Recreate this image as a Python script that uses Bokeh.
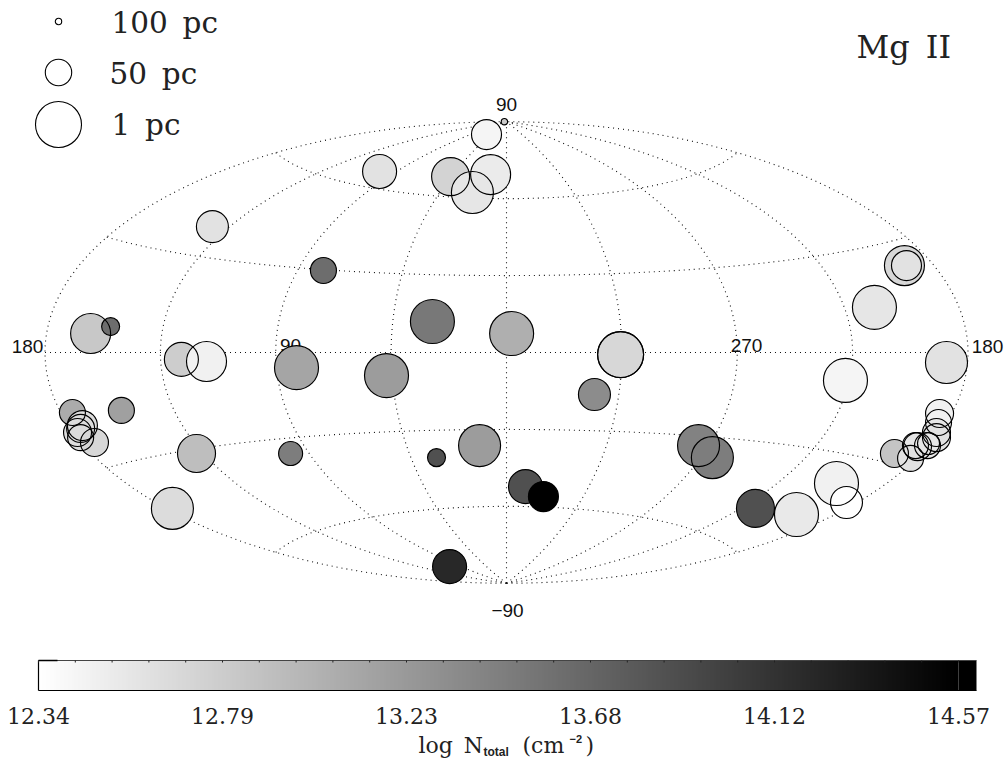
import numpy as np
from bokeh.embed import file_html
from bokeh.resources import INLINE
from bokeh.plotting import figure
from bokeh.models import ColumnDataSource, LinearColorMapper, Range1d
from bokeh.palettes import gray
from bokeh.core.properties import value

# Positions on the Aitoff map plane, in map degrees (x: -180..180, y: -90..90)
map_x = [-7.8,-0.8,-49.5,-21.8,-6.2,-13.3,-114.7,-71.4,-28.9,2.0,-162.2,-154.4,-126.8,-117.0,-81.9,-46.8,
         44.5,44.5,34.3,-169.3,-150.2,-165.4,-166.1,-167.3,-166.1,-160.7,-120.9,-84.2,-130.3,-27.3,-10.5,
         7.4,14.4,-22.2,74.9,80.3,97.1,113.1,128.7,132.6,132.2,143.5,155.2,156.0,171.6,
         168.9,168.5,167.7,167.7,164.6,164.2,160.3,159.5,151.3,157.6]
map_y = [85.0,90.0,70.6,68.6,69.4,62.4,49.1,32.0,12.1,7.4,7.4,10.1,-2.7,-3.5,-5.9,-9.0,
         -0.8,-0.8,-16.4,-23.4,-22.6,-28.5,-29.6,-31.2,-33.2,-35.1,-39.4,-39.4,-60.8,-41.0,-36.3,
         -52.3,-56.2,-83.5,-36.3,-41.0,-60.8,-63.2,-51.1,-58.5,-10.9,17.6,33.9,33.9,-3.9,
         -23.8,-27.3,-31.2,-33.2,-35.5,-36.3,-36.7,-36.3,-39.4,-41.3]
# log column density of each sight line
log_n = [12.43,12.82,12.60,12.73,12.515,12.56,12.60,13.62,13.52,13.04,12.82,13.62,12.78,12.47,13.13,13.21,
         12.69,12.69,13.35,13.08,13.17,12.65,12.65,12.65,12.65,12.69,12.91,13.48,12.65,13.87,13.21,
         13.87,14.57,14.22,13.43,13.48,13.87,12.54,12.47,12.34,12.43,12.56,12.69,12.60,12.60,
         12.47,12.47,12.56,12.60,12.60,12.56,12.60,12.56,12.86,12.60]
# distance of each sight line, pc
distance_pc = [41,100,31,21,16,11,36,51,6,6,16,71,31,16,6,6,
               1,1,36,51,51,41,46,46,51,46,21,56,11,71,11,
               31,41,31,11,11,21,6,6,36,6,6,16,41,11,
               46,51,46,46,61,51,46,51,46,51]

legend_pc = [100, 50, 1]
legend_labels = ["100\u2002pc", "50\u2002pc", "1\u2002pc"]
cb_labels = ["12.34", "12.79", "13.23", "13.68", "14.12", "14.57"]
cb_values = [12.34, 12.786, 13.232, 13.678, 14.124, 14.57]
grid_lon = [-180, -135, -90, -45, 0, 45, 90, 135, 180]
grid_lat = [-60, -30, 0, 30, 60]
lon_labels = ["180", "90", "270", "180"]

# layout helpers: page pixels <-> map plane
def hx(px): return (px - 506) / 2.564
def hy(py): return (352 - py) / 2.564
def nx(px): return 12.34 + (np.asarray(px, float) - 38) * 2.23 / 920

def aitoff(lon, lat):
    lam = np.radians(np.asarray(lon, float)); phi = np.radians(np.asarray(lat, float))
    a = np.arccos(np.cos(phi) * np.cos(lam / 2))
    s = np.where(a < 1e-9, 1.0, np.sin(a) / np.where(a < 1e-9, 1.0, a))
    return np.degrees(2 * np.cos(phi) * np.sin(lam / 2) / s), np.degrees(np.sin(phi) / s)

def radius(d): return 23.2 - 0.2 * np.asarray(d, float)

p = figure(width=1006, height=761, output_backend="svg", toolbar_location=None,
           x_range=Range1d(hx(0), hx(1006)), y_range=Range1d(hy(761), hy(0)),
           min_border=0, outline_line_color=None, background_fill_color="white")
p.xaxis.visible = False
p.yaxis.visible = False
p.grid.visible = False
p.extra_x_ranges["logn"] = Range1d(float(nx(0)), float(nx(1006)))

mapper = LinearColorMapper(palette=list(gray(256))[::-1], low=12.34, high=14.57)

# graticule
for lat in grid_lat:
    lons = np.linspace(-180, 180, 181)
    x, y = aitoff(lons, np.full_like(lons, lat))
    p.line(x, y, line_color="#111111", line_width=1.1, line_dash="1 4")
for lon in grid_lon:
    lats = np.linspace(-90, 90, 121)
    x, y = aitoff(np.full_like(lats, lon), lats)
    p.line(x, y, line_color="#111111", line_width=1.1, line_dash="1 4")

# axis labels of the map
def sans(px, py, t):
    p.text([hx(px)], [hy(py)], text=[t], text_font=value("Liberation Sans"), text_font_size="19px",
           text_align="center", text_baseline="middle", text_color="#111111")
sans(506, 104, "90"); sans(507, 610, "\u221290")
sans(27, 346, lon_labels[0]); sans(290, 345, lon_labels[1]); sans(746, 345, lon_labels[2]); sans(987, 346, lon_labels[3])

# sight lines: fills first, then every outline on top
src = ColumnDataSource(dict(x=map_x, y=map_y, n=log_n, s=2 * radius(distance_pc)))
p.scatter("x", "y", size="s", source=src, marker="circle",
          fill_color={"field": "n", "transform": mapper}, line_color=None)
p.scatter("x", "y", size="s", source=src, marker="circle", fill_color=None, line_color="black", line_width=1.15)

# size legend
p.scatter([hx(58)] * 3, [hy(21), hy(72), hy(124)], size=list(2 * radius(legend_pc)), marker="circle",
          fill_color="white", line_color="black", line_width=1.1)
serif = value("DejaVu Serif")
for t, px, py in zip(legend_labels, [111, 109, 111], [22.5, 73, 124.5]):
    p.text([hx(px)], [hy(py)], text=[t], text_font=serif, text_font_size="29.5px",
           text_baseline="alphabetic", text_color="#222222")
p.text([hx(856)], [hy(46)], text=["Mg\u2002II"], text_font=serif, text_font_size="32px",
       text_baseline="alphabetic", text_color="#222222")

# colour bar
ramp = np.linspace(12.34, 14.57, 460)[None, :]
p.image(image=[ramp], x=12.34, y=hy(690), dw=2.23, dh=hy(660) - hy(690), color_mapper=mapper, x_range_name="logn")
p.quad(left=[14.57], right=[float(nx(976))], bottom=[hy(690)], top=[hy(660)], fill_color="black", line_color=None, x_range_name="logn")
p.segment([float(nx(38))] * 2, [hy(690), hy(690)], [float(nx(976)), float(nx(38))], [hy(690), hy(660)],
          line_color="black", line_width=1.2, x_range_name="logn")
p.segment([float(nx(38))], [hy(660)], [float(nx(976))], [hy(660)], line_color="#444444", line_width=1.2, x_range_name="logn")
p.segment([float(nx(38))], [hy(660)], [float(nx(57))], [hy(660)], line_color="black", line_width=1.6, x_range_name="logn")
ticks = np.arange(0, 26) * 36.8 + 38
p.segment(nx(ticks), [hy(660)] * 26, nx(ticks), [hy(662)] * 26, line_color="#222222", line_width=1, x_range_name="logn")
for t, v in zip(cb_labels, cb_values):
    p.text([v], [hy(715)], text=[t], text_font=serif, text_font_size="22px", text_align="center",
           text_baseline="alphabetic", text_color="#222222", x_range_name="logn")

# colour bar title
def ttl(px, py, t, size, font=serif, style="normal"):
    p.text([hx(px)], [hy(py)], text=[t], text_font=font, text_font_size=size, text_baseline="alphabetic",
           text_font_style=style, text_color="#222222")
ttl(418, 745, "log\u2002N", "22px")
ttl(483, 751, "total", "12px", value("Liberation Sans"), "bold")
ttl(522, 745, "(cm", "22px")
ttl(569, 738, "\u22122", "11px", value("Liberation Sans"), "bold")
ttl(585, 745, ")", "22px")

open("out.html", "w").write(file_html(p, INLINE))
